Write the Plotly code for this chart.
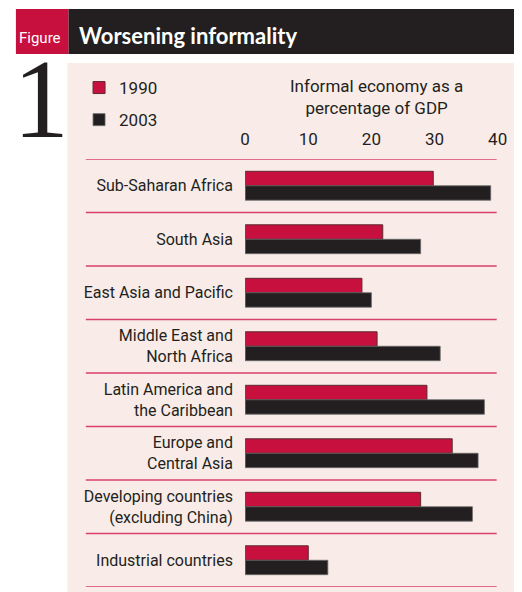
import plotly.graph_objects as go

W, H = 522, 592
OFF = 8  # page body margin of the browser

categories = [
    "Sub-Saharan Africa",
    "South Asia",
    "East Asia and Pacific",
    "Middle East and<br>North Africa",
    "Latin America and<br>the Caribbean",
    "Europe and<br>Central Asia",
    "Developing countries<br>(excluding China)",
    "Industrial countries",
]
values_1990 = [29.8, 21.8, 18.5, 20.9, 28.8, 32.8, 27.8, 10.0]
values_2003 = [38.9, 27.8, 20.0, 30.9, 37.9, 36.9, 36.0, 13.1]
tick_values = [0, 10, 20, 30, 40]
tick_labels = ["0", "10", "20", "30", "40"]

RED = "#c8103e"
BLACK = "#231f20"
PINK = "#f9ece8"
RULE = "#d6406a"
FONT = "Roboto, Liberation Sans, sans-serif"

def px(x):
    return (x - OFF) / W

def py(y):
    return 1 - (y - OFF) / H

fig = go.Figure()
fig.add_trace(go.Bar(
    y=categories, x=values_1990, orientation="h", name="1990", legendgroup="g1990",
    marker=dict(color=RED, line=dict(color="#5a2a30", width=1)),
))
fig.add_trace(go.Bar(
    y=categories, x=values_2003, orientation="h", name="2003", legendgroup="g2003",
    marker=dict(color=BLACK, line=dict(color="#6a6a6a", width=0.8)),
))

shapes = [
    dict(type="rect", xref="paper", yref="paper", x0=px(64), x1=1.0, y0=0, y1=py(63),
         fillcolor=PINK, line=dict(width=0), layer="below"),
    dict(type="rect", xref="paper", yref="paper", x0=px(65), x1=1.0, y0=py(54), y1=py(9),
         fillcolor=BLACK, line=dict(width=0), layer="below"),
    dict(type="rect", xref="paper", yref="paper", x0=px(11), x1=px(65), y0=py(54), y1=py(9),
         fillcolor=RED, line=dict(width=0), layer="below"),
]
for i in range(len(categories) + 1):
    shapes.append(dict(type="line", xref="paper", yref="y", x0=px(83), x1=px(506),
                       y0=i - 0.5, y1=i - 0.5, line=dict(color=RULE, width=1.5), layer="below"))

annotations = [
    dict(text="Figure", xref="paper", yref="paper", x=px(36), y=py(38), showarrow=False,
         font=dict(family=FONT, size=15, color="white"), xanchor="center", yanchor="middle"),
    dict(text="<b>Worsening informality</b>", xref="paper", yref="paper", x=px(74), y=py(35),
         showarrow=False, font=dict(family="Lato, Open Sans, sans-serif", size=22, color="white"),
         xanchor="left", yanchor="middle"),
    dict(text="1", xref="paper", yref="paper", x=px(37), y=py(99), showarrow=False,
         font=dict(family="Liberation Serif, DejaVu Serif, serif", size=112, color=BLACK),
         xanchor="center", yanchor="middle"),
    dict(text="Informal economy as a<br>percentage of GDP", xref="paper", yref="paper",
         x=px(382), y=py(97), showarrow=False,
         font=dict(family=FONT, size=17, color=BLACK), xanchor="center", yanchor="middle"),
]

fig.update_layout(
    width=W, height=H,
    margin=dict(l=0, r=0, t=0, b=0),
    paper_bgcolor="white",
    plot_bgcolor="rgba(0,0,0,0)",
    barmode="group",
    bargap=0.46,
    bargroupgap=0,
    font=dict(family=FONT, size=16, color=BLACK),
    xaxis=dict(
        domain=[px(247), px(507)], range=[0, 40], side="top",
        tickvals=tick_values, ticktext=tick_labels,
        showgrid=False, zeroline=False, showline=False,
        ticks="outside", ticklen=6, tickcolor="rgba(0,0,0,0)",
        tickfont=dict(family=FONT, size=17, color=BLACK),
    ),
    yaxis=dict(
        domain=[py(587), py(159)], range=[len(categories) - 0.5, -0.5],
        type="category", showgrid=False, zeroline=False, showline=False,
        ticks="outside", ticklen=8, tickcolor="rgba(0,0,0,0)",
        tickfont=dict(family=FONT, size=16, color=BLACK),
    ),
    legend=dict(
        x=px(76), y=py(70), xanchor="left", yanchor="top",
        bgcolor="rgba(0,0,0,0)", font=dict(family=FONT, size=17, color=BLACK),
        itemwidth=30, traceorder="grouped", tracegroupgap=7,
    ),
    shapes=shapes,
    annotations=annotations,
)

fig.write_html("out.html")
